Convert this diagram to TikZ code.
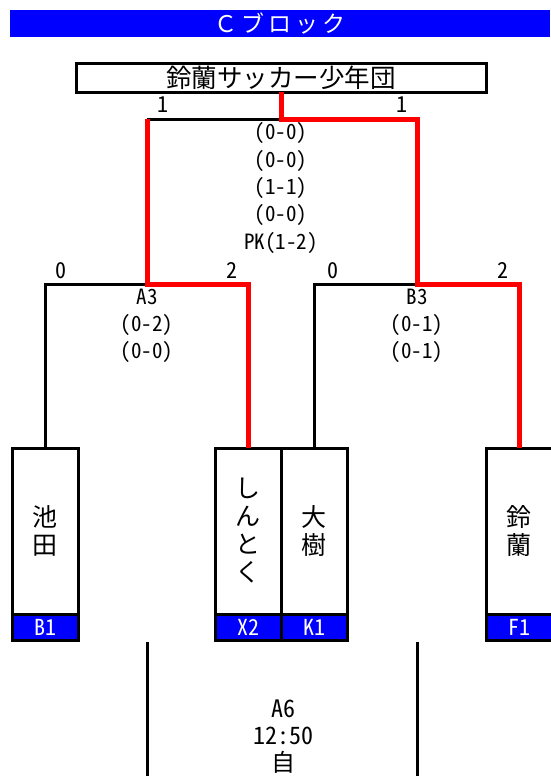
\documentclass[tikz,border=0pt]{standalone}
\usepackage{fontspec}
\setmainfont{Noto Sans CJK JP}
\newfontfamily\hankaku{Noto Sans CJK JP}[CharacterWidth=Half]
\usetikzlibrary{positioning}
\definecolor{blockblue}{RGB}{0,0,255}
\definecolor{winred}{RGB}{255,0,0}

\begin{document}
\begin{tikzpicture}[x=1pt,y=-1pt,inner sep=0pt,outer sep=0pt,line width=3pt,
team/.style={draw,rectangle,minimum width=66pt,minimum height=166pt,align=center,font=\fontsize{25}{28}\selectfont},
tag/.style={draw,rectangle,fill=blockblue,text=white,minimum width=66pt,minimum height=26pt,font=\hankaku\fontsize{22}{22}\selectfont},
goal/.style={font=\hankaku\fontsize{22}{22}\selectfont},
result/.style={align=center,font=\hankaku\fontsize{21}{27.3}\selectfont},
winline/.style={winred,line width=5pt}]

\useasboundingbox (0,0) rectangle (550,776);

% title and winner
\node[fill=blockblue,text=white,anchor=north west,minimum width=540pt,minimum height=27pt,font=\fontsize{23}{23}\selectfont] (title) at (10,10) {Ｃ\,ブ\,ロ\,ッ\,ク};
\node[draw,rectangle,minimum width=410pt,minimum height=28pt,font=\fontsize{25.5}{25.5}\selectfont] (champ) at (281,78) {鈴蘭サッカー少年団};

% teams
\node[team] (b1) at (45,531) {池\\田};
\node[tag,below=0pt of b1] (b1tag) {B1};
\node[team] (x2) at (248,531) {し\\ん\\と\\く};
\node[tag,below=0pt of x2] (x2tag) {X2};
\node[team,right=0pt of x2] (k1) {大\\樹};
\node[tag,below=0pt of k1] (k1tag) {K1};
\node[team] (f1) at (519,531) {鈴\\蘭};
\node[tag,below=0pt of f1] (f1tag) {F1};

% bracket
\coordinate (a3) at (147,284);
\coordinate (b3) at (417,284);
\coordinate (final) at (281,119);
\draw (b1.north) |- (a3);
\draw (k1.north) |- (b3);
\draw (a3 |- final) -- (final);
\draw[winline] (x2.north) |- (a3) -- (a3 |- final);
\draw[winline] (champ.south) -- (final) -| (b3) -| (f1.north);

% scores
\node[goal] (s1) at (163,105) {1};
\node[goal] (s2) at (402,105) {1};
\node[goal] (s3) at (61,271) {0};
\node[goal] (s4) at (232,271) {2};
\node[goal] (s5) at (333,271) {0};
\node[goal] (s6) at (503,271) {2};
\node[result] (finres) at (281,188) {(0-0)\\(0-0)\\(1-1)\\(0-0)\\PK(1-2)};
\node[result] (a3res) at (147,326) {A3\\(0-2)\\(0-0)};
\node[result] (b3res) at (417,326) {B3\\(0-1)\\(0-1)};

% next round
\coordinate (a6l) at (147,642);
\coordinate (a6lend) at (147,776);
\coordinate (a6r) at (417,642);
\coordinate (a6rend) at (417,776);
\draw (a6l) -- (a6lend);
\draw (a6r) -- (a6rend);
\node[result,font=\hankaku\fontsize{24}{27}\selectfont] (a6) at (283,737) {A6\\12:50\\自};
\end{tikzpicture}
\end{document}
